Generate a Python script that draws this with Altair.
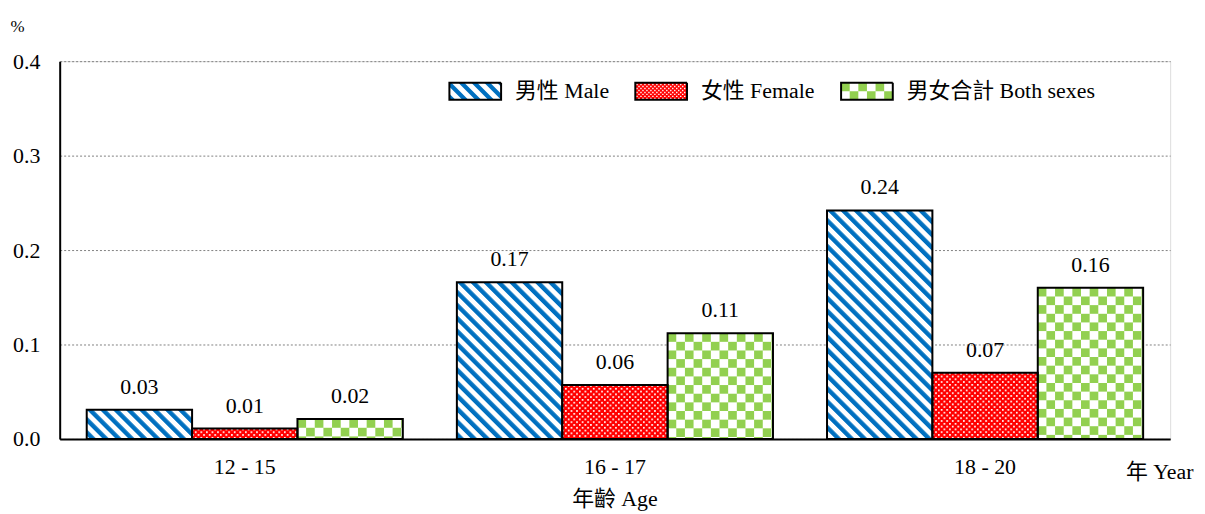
import base64
import altair as alt
import pandas as pd

# ---------------- data ----------------
ages = ["12 - 15", "16 - 17", "18 - 20"]
sexes = ["男性 Male", "女性 Female", "男女合計 Both sexes"]
male = [0.031, 0.166, 0.242]
female = [0.011, 0.057, 0.070]
both = [0.021, 0.112, 0.160]
y_ticks = [0.0, 0.1, 0.2, 0.3, 0.4]

rows = []
for s, vals in zip(sexes, [male, female, both]):
    for a, v in zip(ages, vals):
        rows.append({"age": a, "sex": s, "sex_outline": s, "value": v})
df = pd.DataFrame(rows)

# ---------------- style ----------------
FONT = "'Liberation Serif', 'Times New Roman', 'Noto Sans CJK TC', serif"
BLUE, RED, GREEN = "#0070C0", "#FF0000", "#92D050"


def svg_uri(body):
    svg = ("<svg xmlns='http://www.w3.org/2000/svg'><defs>" + body +
           "</defs><rect width='100%' height='100%' fill='url(#p)'/></svg>")
    return "data:image/svg+xml;base64," + base64.b64encode(svg.encode()).decode()


pat_male = svg_uri(
    "<pattern id='p' patternUnits='userSpaceOnUse' width='9.2' height='9.2' "
    "patternTransform='rotate(-45)'><rect width='9.2' height='9.2' fill='white'/>"
    f"<rect width='4.4' height='9.2' fill='{BLUE}'/></pattern>")
pat_female = svg_uri(
    "<pattern id='p' patternUnits='userSpaceOnUse' width='5.6' height='5.6'>"
    f"<rect width='5.6' height='5.6' fill='{RED}'/>"
    "<rect x='0' y='0' width='1.7' height='1.7' fill='white'/>"
    "<rect x='2.8' y='2.8' width='1.7' height='1.7' fill='white'/></pattern>")
pat_both = svg_uri(
    "<pattern id='p' patternUnits='userSpaceOnUse' width='17.4' height='17.4'>"
    "<rect width='17.4' height='17.4' fill='white'/>"
    f"<rect width='8.7' height='8.7' fill='{GREEN}'/>"
    f"<rect x='8.7' y='8.7' width='8.7' height='8.7' fill='{GREEN}'/></pattern>")
patterns = [pat_male, pat_female, pat_both]

# legend swatch shapes (custom symbol paths, x spans -1..1)
SW, SH = 52.0, 17.0


def pc(px, py):
    s = 2.0 / SW
    return f"{px * s - 1:.4f},{(py - SH / 2) * s:.4f}"


def clip(poly, xmin, ymin, xmax, ymax):
    def cut(pts, inside, inter):
        out = []
        for i in range(len(pts)):
            cur, prev = pts[i], pts[i - 1]
            if inside(cur):
                if not inside(prev):
                    out.append(inter(prev, cur))
                out.append(cur)
            elif inside(prev):
                out.append(inter(prev, cur))
        return out

    def ix(x0):
        return lambda a, b: (x0, a[1] + (b[1] - a[1]) * (x0 - a[0]) / (b[0] - a[0]))

    def iy(y0):
        return lambda a, b: (a[0] + (b[0] - a[0]) * (y0 - a[1]) / (b[1] - a[1]), y0)

    pts = poly
    for inside, inter in [
        (lambda p: p[0] >= xmin, ix(xmin)), (lambda p: p[0] <= xmax, ix(xmax)),
        (lambda p: p[1] >= ymin, iy(ymin)), (lambda p: p[1] <= ymax, iy(ymax))]:
        if not pts:
            break
        pts = cut(pts, inside, inter)
    return pts


def poly_path(pts):
    return "M" + "L".join(pc(x, y) for x, y in pts) + "Z"


# striped swatch
parts = []
c = -SH - 13
while c < SW:
    poly = [(c, 0), (c + 6, 0), (c + 6 + SH, SH), (c + SH, SH)]
    cp = clip(poly, 0, 0, SW, SH)
    if len(cp) >= 3:
        parts.append(poly_path(cp))
    c += 13
shape_male = "".join(parts)

# red swatch with white holes
parts = [poly_path([(0, 0), (SW, 0), (SW, SH), (0, SH)])]
row = 0
yy = 1.0
while yy + 1.5 < SH:
    xx = 1.0 + (2.0 if row % 2 else 0.0)
    while xx + 1.5 < SW:
        parts.append(poly_path([(xx, yy), (xx, yy + 1.4), (xx + 1.4, yy + 1.4), (xx + 1.4, yy)]))
        xx += 4.0
    yy += 2.0
    row += 1
shape_female = "".join(parts)

# checker swatch
parts = []
cw, ch = SW / 6, SH / 2
for i in range(6):
    for j in range(2):
        if (i + j) % 2 == 0:
            parts.append(poly_path([(i * cw, j * ch), ((i + 1) * cw, j * ch),
                                    ((i + 1) * cw, (j + 1) * ch), (i * cw, (j + 1) * ch)]))
shape_both = "".join(parts)
shape_rect = poly_path([(0, 0), (SW, 0), (SW, SH), (0, SH)])

# ---------------- encodings ----------------
x_enc = alt.X(
    "age:N", sort=ages,
    scale=alt.Scale(domain=ages, paddingInner=0.146, paddingOuter=0.073),
    axis=alt.Axis(title="年 Year", labelAngle=0, ticks=False, labelPadding=18,
                  labelFontSize=22, labelFont=FONT, labelColor="black",
                  domainColor="black", domainWidth=2, grid=False,
                  titleX=1140, titleY=33, titleAlign="right", titleBaseline="middle",
                  titleFontSize=22, titleFont=FONT, titleFontWeight="normal",
                  titleColor="black"))
xo_enc = alt.XOffset("sex:N", sort=sexes,
                     scale=alt.Scale(domain=sexes, paddingInner=0, paddingOuter=0))
y_enc = alt.Y(
    "value:Q",
    scale=alt.Scale(domain=[0, 0.4], nice=False, zero=True),
    axis=alt.Axis(values=y_ticks, format=".1f", title="%", titleAngle=0,
                  titleX=-43, titleY=-35, titleAlign="center", titleBaseline="middle",
                  titleFontSize=17, titleFont=FONT, titleFontWeight="normal",
                  titleColor="black", ticks=False, labelPadding=20, labelFontSize=22,
                  labelFont=FONT, labelColor="black", gridColor="#808080",
                  gridDash=[2, 2], gridWidth=1, domainColor="black", domainWidth=2))

base = alt.Chart(df)

image_layers = []
for s, uri in zip(sexes, patterns):
    image_layers.append(
        base.transform_filter(alt.datum.sex == s)
        .mark_image(aspect=False)
        .encode(x=x_enc, xOffset=xo_enc, y=y_enc, y2=alt.datum(0), url=alt.value(uri)))

outline = base.mark_bar(fillOpacity=0, stroke="black", strokeWidth=2).encode(
    x=x_enc, xOffset=xo_enc, y=y_enc)

labels = base.mark_text(dy=-16, baseline="alphabetic", fontSize=22, font=FONT,
                        color="black").encode(
    x=x_enc, xOffset=xo_enc, y=y_enc, text=alt.Text("value:Q", format=".2f"))

leg_common = dict(title=None, orient="none", legendX=391, legendY=3,
                  direction="horizontal", symbolSize=SW * SW, symbolOpacity=1,
                  symbolStrokeWidth=2, gridAlign="each",
                  labelFontSize=22, labelFont=FONT, labelColor="black", labelOffset=13,
                  columnPadding=22, labelLimit=400, padding=0)

# legend A: coloured pattern swatches (colour + shape merge into one legend)
legend_a = base.mark_point(filled=True, opacity=0).encode(
    x=x_enc, xOffset=xo_enc, y=y_enc,
    color=alt.Color("sex:N", sort=sexes,
                    scale=alt.Scale(domain=sexes, range=[BLUE, RED, GREEN]),
                    legend=alt.Legend(symbolStrokeColor="transparent", **leg_common)),
    shape=alt.Shape("sex:N", sort=sexes,
                    scale=alt.Scale(domain=sexes, range=[shape_male, shape_female, shape_both]),
                    legend=alt.Legend(symbolStrokeColor="transparent", **leg_common)))

# legend B: black swatch outlines drawn over legend A
legend_b = base.mark_point(filled=False, opacity=0, color="black").encode(
    x=x_enc, xOffset=xo_enc, y=y_enc,
    strokeDash=alt.StrokeDash(
        "sex_outline:N", sort=sexes,
        scale=alt.Scale(range=[[1, 0], [1, 0], [1, 0]]),
        legend=alt.Legend(symbolType=shape_rect, symbolStrokeColor="black",
                          symbolFillColor="transparent",
                          labelOpacity=0, **leg_common)))

chart = (
    alt.layer(*image_layers, outline, labels, legend_a, legend_b)
    .properties(
        width=1117, height=380,
        autosize=alt.AutoSizeParams(type="none"),
        padding={"left": 52, "top": 52, "right": 27, "bottom": 72},
        title=alt.TitleParams(text="年齡 Age", orient="bottom", anchor="middle",
                              frame="group", fontSize=22, font=FONT,
                              fontWeight="normal", color="black", offset=6),
    )
    .configure_view(stroke="black", strokeWidth=2)
    .configure(background="white")
)

chart.save("out.html", embed_options={"renderer": "svg", "actions": False})
